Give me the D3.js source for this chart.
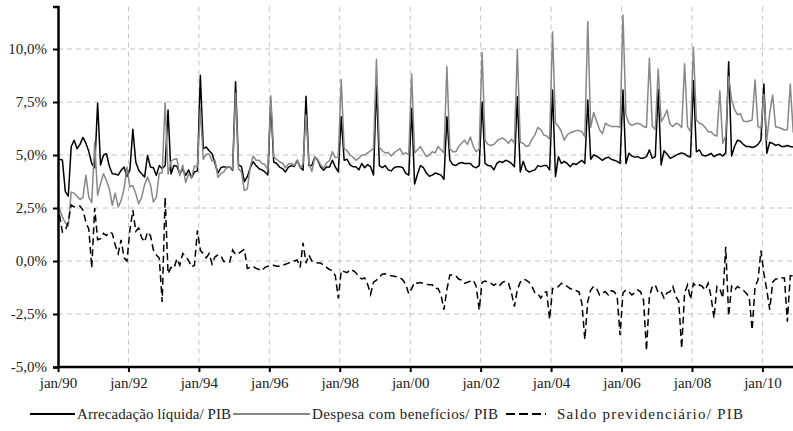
<!DOCTYPE html>
<html>
<head>
<meta charset="utf-8">
<script src="https://cdn.jsdelivr.net/npm/d3@7"></script>
<style>
  html, body { margin: 0; padding: 0; background: #fff; }
  svg { display: block; }
</style>
</head>
<body>
<svg id="chart" width="793" height="431"></svg>
<script>
// ---- DATA (monthly, jan/1990 .. nov/2010), % of GDP ----
const xTickLabels = ["jan/90","jan/92","jan/94","jan/96","jan/98","jan/00","jan/02","jan/04","jan/06","jan/08","jan/10"];
const yTicks = [-5, -2.5, 0, 2.5, 5, 7.5, 10];
const seriesNames = ["Arrecadação líquida/ PIB", "Despesa com benefícios/ PIB", "Saldo previdenciário/ PIB"];

const arrecadacao = [
  4.8, 4.76, 3.27, 3.06, 5.39, 5.7, 5.3, 5.5, 5.83, 5.56, 5.16, 4.6,        // 1990
  4.4, 7.44, 4.53, 5.0, 5.06, 4.47, 4.12, 4.1, 4.05, 4.28, 4.43, 3.99,      // 1991
  4.3, 6.21, 4.67, 4.28, 4.12, 3.96, 4.98, 4.43, 4.4, 4.04, 4.5, 4.35,      // 1992
  4.5, 7.12, 4.1, 4.5, 4.47, 4.12, 4.32, 4.04, 4.3, 3.93, 4.2, 4.25,        // 1993
  8.76, 5.3, 5.38, 5.2, 5.06, 4.6, 4.15, 4.4, 4.45, 4.4, 4.45, 4.28,        // 1994
  8.46, 4.53, 4.45, 3.74, 3.98, 4.4, 4.68, 4.5, 4.35, 4.3, 4.2, 4.06,       // 1995
  7.55, 4.67, 4.6, 4.43, 4.36, 4.2, 4.43, 4.5, 4.45, 4.75, 4.43, 4.28,      // 1996
  7.77, 4.5, 4.5, 4.9, 4.75, 4.43, 4.28, 4.43, 4.43, 4.75, 4.43, 4.2,       // 1997
  6.8, 4.75, 4.8, 4.53, 4.45, 4.45, 4.3, 4.6, 4.4, 4.55, 4.45, 4.06,        // 1998
  8.3, 4.5, 4.4, 4.5, 4.3, 4.25, 4.4, 4.45, 4.45, 4.4, 4.13, 4.05,          // 1999
  7.2, 3.63, 4.1, 4.5, 4.4, 4.15, 4.0, 4.05, 4.15, 4.1, 4.05, 3.85,         // 2000
  6.8, 4.76, 4.55, 4.5, 4.6, 4.65, 4.6, 4.6, 4.6, 4.45, 4.4, 4.5,           // 2001
  7.5, 4.6, 4.5, 4.48, 4.3, 4.6, 4.7, 4.65, 4.75, 4.7, 4.6, 4.45,           // 2002
  7.75, 4.2, 4.7, 4.3, 4.2, 4.25, 4.3, 4.5, 4.45, 4.5, 4.5, 4.3,            // 2003
  8.07, 3.98, 4.92, 4.6, 4.7, 4.6, 4.45, 4.6, 4.55, 4.65, 4.75, 4.6,        // 2004
  7.6, 4.8, 5.0, 4.95, 4.85, 4.75, 4.85, 4.9, 4.8, 4.75, 4.7, 4.6,          // 2005
  8.07, 4.6, 5.08, 4.95, 4.9, 4.92, 4.85, 4.85, 4.92, 5.24, 4.85, 4.92,     // 2006
  8.1, 4.53, 5.2, 5.05, 4.85, 4.9, 4.98, 5.05, 5.1, 5.05, 4.95, 4.9,        // 2007
  8.5, 5.15, 5.24, 5.0, 4.95, 5.0, 5.08, 4.92, 5.0, 5.05, 4.95, 5.1,        // 2008
  9.4, 4.95, 5.4, 5.7, 5.65, 5.5, 5.4, 5.4, 5.35, 5.4, 5.5, 5.7,            // 2009
  8.35, 5.08, 5.6, 5.55, 5.45, 5.5, 5.4, 5.4, 5.45, 5.4, 5.38               // 2010
];

const despesa = [
  2.47, 2.07, 1.8, 1.65, 3.25, 3.2, 3.05, 2.9, 3.0, 4.05, 3.0, 2.75,        // 1990
  5.6, 3.1, 3.65, 4.12, 3.8, 3.4, 2.63, 3.2, 2.55, 2.85, 3.4, 4.43,         // 1991
  3.5, 3.55, 3.18, 2.7, 3.0, 3.6, 3.96, 3.6, 2.78, 3.0, 4.15, 4.15,         // 1992
  7.47, 4.1, 4.7, 4.8, 4.82, 4.02, 4.52, 3.7, 4.1, 3.93, 4.48, 4.45,        // 1993
  7.2, 4.8, 5.03, 5.05, 4.71, 4.75, 3.95, 4.12, 4.2, 4.43, 4.45, 4.33,      // 1994
  7.9, 4.35, 4.2, 3.32, 3.4, 4.45, 4.95, 4.75, 4.75, 4.6, 4.55, 4.3,        // 1995
  7.8, 4.92, 4.8, 4.68, 4.61, 4.4, 4.58, 4.6, 4.5, 4.75, 4.38, 4.58,        // 1996
  6.9, 4.6, 4.22, 4.9, 4.78, 4.53, 4.38, 4.63, 4.73, 5.15, 4.88, 4.9,       // 1997
  8.56, 5.3, 5.2, 5.0, 4.9, 4.75, 4.85, 5.0, 5.0, 5.1, 5.2, 5.3,            // 1998
  9.5, 5.35, 5.2, 5.1, 5.12, 4.95, 5.1, 5.2, 5.3, 5.05, 5.1, 5.0,           // 1999
  8.82, 5.1, 5.25, 5.4, 5.15, 4.92, 5.0, 5.15, 5.1, 5.4, 5.25, 5.1,         // 2000
  9.17, 5.3, 5.15, 5.15, 5.4, 5.55, 5.7, 5.5, 5.85, 5.4, 5.15, 5.3,         // 2001
  9.84, 5.7, 5.5, 5.45, 5.5, 5.65, 5.75, 5.8, 5.7, 5.55, 5.75, 5.55,        // 2002
  9.98, 5.6, 5.55, 5.4, 5.45, 5.75, 5.95, 6.3, 6.2, 5.95, 5.9, 5.75,        // 2003
  10.8, 6.5, 6.35, 6.1, 5.7, 5.95, 6.05, 6.1, 6.15, 6.15, 6.1, 5.86,        // 2004
  11.3, 6.3, 7.0, 6.6, 6.2, 6.0, 6.5, 6.4, 6.35, 6.35, 6.35, 6.3,           // 2005
  11.6, 6.9, 6.5, 6.4, 6.45, 6.5, 6.45, 6.34, 6.3, 9.56, 6.35, 6.2,         // 2006
  9.06, 6.57, 6.8, 7.12, 6.45, 6.34, 6.5, 6.45, 6.3, 9.3, 6.33, 6.1,        // 2007
  10.1, 6.65, 6.5, 6.45, 6.3, 6.1, 6.1, 5.94, 5.9, 8.03, 5.55, 5.9,         // 2008
  8.7, 7.6, 7.15, 6.9, 6.95, 6.6, 6.57, 6.6, 6.65, 8.54, 6.35, 6.25,        // 2009
  7.86, 5.7, 6.97, 7.83, 6.33, 6.3, 6.25, 6.18, 6.2, 8.35, 6.05             // 2010
];

const saldo = [
  2.17, 1.37, 1.45, 1.84, 2.64, 2.55, 2.6, 2.6, 2.4, 1.84, 1.5, -0.33,      // 1990
  2.5, 1.0, 1.05, 1.3, 1.2, 1.37, 1.3, 0.75, 0.35, 1.0, 0.15, 0.0,          // 1991
  1.46, 2.4, 1.4, 1.56, 1.1, 0.9, 1.37, 1.2, 0.52, 0.28, 0.14, -1.93,       // 1992
  3.0, -0.6, -0.3, -0.35, 0.1, -0.2, 0.35, 0.2, 0.03, -0.28, -0.2, 1.45,    // 1993
  0.5, 0.35, 0.15, 0.35, -0.15, 0.2, 0.28, 0.25, -0.03, 0.0, -0.05, 0.52,   // 1994
  0.3, 0.35, 0.45, 0.55, -0.35, -0.3, -0.25, -0.35, -0.4, -0.45, -0.3, -0.25, // 1995
  -0.25, -0.2, -0.25, -0.25, -0.2, -0.15, -0.1, -0.05, 0.0, 0.05, -0.3, 0.86, // 1996
  -0.1, 0.28, 0.0, -0.03, -0.1, -0.1, -0.2, -0.3, -0.4, -0.45, -0.7, -1.76,   // 1997
  -0.45, -0.5, -0.55, -0.4, -0.45, -0.55, -0.75, -0.85, -0.8, -1.1, -1.57, -1.0, // 1998
  -0.9, -0.75, -0.62, -0.6, -0.65, -0.7, -0.72, -0.75, -0.78, -0.9, -1.1, -1.55, // 1999
  -1.3, -1.0, -1.05, -1.02, -1.05, -1.1, -1.12, -1.12, -1.3, -1.3, -1.6, -2.3,  // 2000
  -1.35, -0.66, -0.66, -0.7, -0.85, -0.9, -1.05, -1.0, -0.95, -0.9, -1.2, -2.3, // 2001
  -1.0, -0.95, -1.0, -1.05, -1.15, -1.05, -1.15, -1.0, -0.95, -1.05, -1.5, -2.15, // 2002
  -1.35, -1.0, -0.85, -0.9, -1.0, -1.2, -1.5, -1.55, -1.75, -1.5, -1.45, -2.75, // 2003
  -1.3, -1.3, -1.2, -1.05, -1.1, -1.2, -1.3, -1.35, -1.4, -1.45, -2.0, -3.7,    // 2004
  -1.9, -1.37, -1.2, -1.3, -1.6, -1.5, -1.45, -1.6, -1.4, -1.45, -1.65, -3.5,   // 2005
  -1.5, -1.37, -1.45, -1.6, -1.5, -1.37, -1.45, -1.85, -4.23, -1.68, -1.2, -1.13, // 2006
  -1.5, -1.45, -1.75, -1.5, -1.45, -1.2, -1.68, -1.9, -4.12, -1.5, -1.13, -1.8,   // 2007
  -1.05, -1.2, -1.13, -1.2, -1.37, -1.05, -1.68, -2.7, -1.2, -1.3, -1.75, 0.67,   // 2008
  -2.6, -1.2, -1.37, -1.2, -1.3, -1.37, -1.52, -1.7, -3.25, -1.2, -0.9, 0.49,     // 2009
  -0.58, -1.37, -2.3, -1.0, -0.85, -0.85, -0.8, -0.8, -2.86, -0.7, -0.7           // 2010
];

// ---- LAYOUT ----
const W = 793, H = 431;
const plotLeft = 58, plotBottom = 367, plotTop = 6.6;
const FONT = "'Liberation Serif', 'Times New Roman', Times, 'DejaVu Serif', serif";
const svg = d3.select("#chart");

// month index -> x ; jan/90 = 0, jan/10 = 240
const x = d3.scaleLinear().domain([0, 240]).range([plotLeft, 762.4]);
const y = d3.scaleLinear().domain([-5, 12]).range([plotBottom, plotTop]);

const fmt = v => (v < 0 ? "-" : "") + Math.abs(v).toFixed(1).replace(".", ",") + "%";

// grid
const grid = svg.append("g");
grid.selectAll("line.h").data(yTicks.filter(v => v > -5)).join("line")
  .attr("x1", plotLeft).attr("x2", W).attr("y1", d => y(d)).attr("y2", d => y(d))
  .attr("stroke", "#c3c3c3").attr("stroke-width", 1).attr("stroke-dasharray", "5,4");
const xTickMonths = xTickLabels.map((_, k) => k * 24);
grid.selectAll("line.v").data(xTickMonths.filter(m => m > 0)).join("line")
  .attr("x1", d => x(d)).attr("x2", d => x(d)).attr("y1", plotTop).attr("y2", plotBottom)
  .attr("stroke", "#c3c3c3").attr("stroke-width", 1).attr("stroke-dasharray", "5,4");

// lines
const line = d3.line().x((d, i) => x(i + 0.5)).y(d => y(d)).defined(d => d != null);
svg.append("path").datum(arrecadacao).attr("d", line)
  .attr("fill", "none").attr("stroke", "#000").attr("stroke-width", 1.5).attr("stroke-linejoin", "round");
svg.append("path").datum(despesa).attr("d", line)
  .attr("fill", "none").attr("stroke", "#878787").attr("stroke-width", 1.5).attr("stroke-linejoin", "round");
svg.append("path").datum(saldo).attr("d", line)
  .attr("fill", "none").attr("stroke", "#000").attr("stroke-width", 1.5).attr("stroke-dasharray", "7,4");

// y axis
const yAxis = d3.axisLeft(y).tickValues(yTicks).tickFormat(fmt).tickSize(5).tickPadding(6);
const gy = svg.append("g").attr("transform", `translate(${plotLeft},0)`).call(yAxis);
gy.select(".domain").attr("stroke", "#000").attr("stroke-width", 2.5);
gy.selectAll(".tick line").attr("stroke", "#000").attr("stroke-width", 2);
gy.selectAll(".tick text").style("font-family", FONT).style("font-size", "15px").attr("fill", "#222");

// x axis
const xAxis = d3.axisBottom(x).tickValues(xTickMonths).tickFormat((d, k) => xTickLabels[k]).tickSize(5).tickPadding(5);
const gx = svg.append("g").attr("transform", `translate(0,${plotBottom})`).call(xAxis);
gx.select(".domain").attr("d", `M${plotLeft},0H${W}`).attr("stroke", "#000").attr("stroke-width", 2.5);
gx.selectAll(".tick line").attr("stroke", "#000").attr("stroke-width", 2);
gx.selectAll(".tick text").style("font-family", FONT).style("font-size", "15px").attr("fill", "#222");

// legend
const legendY = 414;
const legendItems = [
  { name: seriesNames[0], x1: 30, x2: 75, color: "#000", dash: null, tx: 77, len: 154 },
  { name: seriesNames[1], x1: 233, x2: 310, color: "#878787", dash: null, tx: 312, len: 186 },
  { name: seriesNames[2], x1: 506, x2: 546, color: "#000", dash: "9,4", tx: 557, len: 186 }
];
const lg = svg.append("g");
legendItems.forEach(it => {
  lg.append("line").attr("x1", it.x1).attr("x2", it.x2).attr("y1", legendY).attr("y2", legendY)
    .attr("stroke", it.color).attr("stroke-width", 1.8).attr("stroke-dasharray", it.dash);
  lg.append("text").attr("x", it.tx).attr("y", legendY + 5)
    .attr("textLength", it.len).attr("lengthAdjust", "spacing")
    .style("font-family", FONT).style("font-size", "15px").attr("fill", "#222").text(it.name);
});
</script>
</body>
</html>
